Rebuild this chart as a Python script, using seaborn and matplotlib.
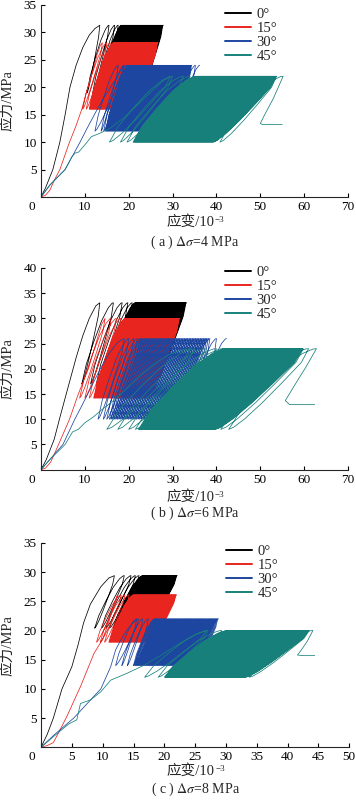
import matplotlib

matplotlib.use("Agg")
import matplotlib.pyplot as plt
import matplotlib.transforms as mtransforms
import numpy as np
import pandas as pd
import seaborn as sns

ANGLES = ["0°", "15°", "30°", "45°"]
COLORS = ["#000000", "#e8251f", "#1d46a0", "#17807a"]

# shape of one hysteresis loop, normalised (strain share of loop width, stress share of range)
UP_U = [0.0, 0.03, 0.14, 0.38, 0.63, 0.84, 0.96, 1.0]
UP_V = [0.0, 0.05, 0.24, 0.52, 0.78, 0.94, 0.995, 1.0]
DOWN_U = [0.985, 0.91, 0.66, 0.42, 0.2, 0.06, 0.0]
DOWN_V = [0.97, 0.83, 0.57, 0.33, 0.13, 0.025, 0.0]

# ---- (a) delta sigma = 4 MPa ----
A_INIT_E = [
    [0, 1.0, 2.7, 4.3, 5.5, 6.6, 8.0, 9.5, 11.0, 12.3, 13.4],
    [0, 1.0, 2.0, 3.0, 4.3, 6.5, 8.0, 9.3, 10.5, 11.8, 12.8, 13.5, 14.0],
    [0, 2.0, 5.5, 8.9, 10.5, 12.7, 14.5, 16.0, 17.2, 18.2, 18.8],
    [0, 2.0, 5.5, 7.0, 7.8, 8.6, 10.0, 11.5, 13.4, 15.7, 19.0, 22.0, 25.5, 28.0, 29.5],
]
A_INIT_S = [
    [0, 1.6, 5, 10, 15, 20, 24, 27.2, 29.5, 30.7, 31.3],
    [0, 0.3, 1.2, 3.0, 5, 10, 13, 16, 19.5, 23, 26, 27.6, 28.1],
    [0, 2.2, 5, 10, 12.5, 15.8, 18.3, 20.2, 21.6, 23.2, 24.0],
    [0, 2.1, 5, 7.3, 8.0, 8.2, 9.5, 11.0, 11.6, 12.5, 14.5, 16.8, 19.5, 21.3, 22.0],
]
A_HI = [31.3, 28.1, 24.0, 22.0]
A_LO = [19.0, 16.0, 12.0, 10.0]
A_D = [5.0, 5.5, 5.3, 14.4]
A_EARLY = [[15.5, 16.8, 17.6], [15.0, 15.8], [17.6, 19.0, 19.6], [30.0, 32.5, 34.0]]
A_DENSE = [(18.3, 27.9, 70), (16.5, 26.7, 90), (20.0, 34.3, 110), (35.4, 53.7, 160)]
A_LATE = [[], [], [35.2, 36.2], [55.2]]
A_TAIL_E = [[], [], [], [53.0, 51.0, 50.0, 50.5, 55.0]]
A_TAIL_S = [[], [], [], [18.0, 15.0, 13.4, 13.2, 13.2]]

# ---- (b) delta sigma = 6 MPa ----
B_INIT_E = [
    [0, 1.2, 3.0, 4.5, 5.8, 7.0, 8.1, 9.5, 11.0, 12.5, 13.4],
    [0, 1.0, 2.2, 3.5, 5.0, 6.5, 8.5, 10.8, 12.5, 13.8, 14.6],
    [0, 2.0, 5.0, 7.7, 9.5, 11.5, 13.5, 15.5, 17.5, 19.0],
    [0, 2.0, 5.5, 7.2, 8.5, 10.0, 12.0, 14.0, 17.0, 20.0, 23.0, 26.0, 29.0, 32.0, 34.0],
]
B_INIT_S = [
    [0, 2, 6, 11, 15.2, 19, 22.5, 26.5, 30, 32.5, 33.1],
    [0, 0.3, 1.5, 4, 7, 10, 15, 20, 25, 28.8, 30],
    [0, 2, 5, 10, 13, 16.5, 20, 23, 25.3, 26],
    [0, 2, 5, 7.5, 8, 9.3, 10.5, 12, 14, 16.5, 19, 21, 22.8, 23.7, 24],
]
B_HI = [33.1, 30.0, 26.0, 24.0]
B_LO = [17.0, 14.2, 10.0, 8.0]
B_D = [7.2, 7.2, 7.0, 20.0]
B_EARLY = [[16.5, 18.5, 19.8, 20.8], [16.0, 17.2, 18.2], [20.0, 21.2, 22.0], [35.0, 37.5, 40.0, 41.5]]
B_DENSE = [(21.5, 33.2, 80), (19.2, 31.7, 90), (22.6, 38.5, 45), (42.2, 59.8, 95)]
B_LATE = [[], [], [40.0, 42.3], [61.0, 62.8]]
B_TAIL_E = [[], [], [], [60.5, 58.0, 55.7, 56.7, 62.4]]
B_TAIL_S = [[], [], [], [20.5, 17.0, 13.7, 12.9, 12.9]]

# ---- (c) delta sigma = 8 MPa ----
C_INIT_E = [
    [0, 1.0, 2.0, 3.4, 5.0, 6.0, 6.9, 8.0, 9.7, 11.0, 11.9],
    [0, 1.0, 2.0, 3.0, 4.2, 6.4, 8.6, 10.0, 11.0, 11.8, 12.4],
    [0, 2.0, 5.3, 7.5, 9.7, 11.3, 12.1, 13.0, 14.0, 15.0, 15.8],
    [0, 2.0, 4.5, 5.8, 6.4, 8.0, 9.7, 11.3, 14.0, 16.8, 19.5, 22.5, 25.0, 26.8],
]
C_INIT_S = [
    [0, 2.2, 5, 10, 13.8, 17.5, 21.3, 24.5, 27.5, 29.0, 29.4],
    [0, 0.3, 0.8, 2.8, 5.3, 10.4, 16.1, 18.5, 21.5, 24.5, 26.1],
    [0, 2, 5, 7.5, 10, 13.8, 16.7, 18.5, 20.2, 21.4, 22],
    [0, 1.8, 4, 4.7, 7.5, 8.1, 9.5, 11.5, 12.7, 14.1, 15.8, 17.8, 19.3, 20],
]
C_HI = [29.4, 26.1, 22.0, 20.0]
C_LO = [20.4, 18.0, 14.0, 12.0]
C_D = [4.8, 4.0, 3.4, 10.3]
C_EARLY = [[13.5, 14.6, 15.3, 15.9], [13.0, 13.6, 14.3], [15.5, 16.5, 17.4], [27.1, 29.3]]
C_DENSE = [(16.5, 22.1, 60), (15.0, 22.0, 70), (18.4, 28.8, 70), (30.3, 43.5, 120)]
C_LATE = [[], [], [], [44.1]]
C_TAIL_E = [[], [], [], [43.2, 42.3, 41.6, 42.5, 44.4]]
C_TAIL_S = [[], [], [], [18.2, 16.8, 15.8, 15.7, 15.7]]

TEXT_FONT = ["Liberation Serif", "Noto Sans CJK SC"]


def cyclic_curve(init_e, init_s, early, dense, late, lo, hi, d, tail_e, tail_s):
    peaks = [init_e[-1]] + early + list(np.linspace(dense[0], dense[1], dense[2])) + late
    xs, ys = list(init_e), list(init_s)
    for p0, p1 in zip(peaks[:-1], peaks[1:]):
        b = p1 - d
        for u, v in zip(DOWN_U, DOWN_V):
            xs.append(b + u * (p0 - b))
            ys.append(lo + v * (hi - lo))
        for u, v in zip(UP_U[1:], UP_V[1:]):
            xs.append(b + u * (p1 - b))
            ys.append(lo + v * (hi - lo))
    xs += tail_e
    ys += tail_s
    return xs, ys


def build_frame(init_e, init_s, early, dense, late, lo, hi, d, tail_e, tail_s):
    parts = []
    for i, ang in enumerate(ANGLES):
        xs, ys = cyclic_curve(init_e[i], init_s[i], early[i], dense[i], late[i],
                              lo[i], hi[i], d[i], tail_e[i], tail_s[i])
        parts.append(pd.DataFrame({"strain": xs, "stress": ys, "angle": ang}))
    return pd.concat(parts, ignore_index=True)


sns.set_theme(style="ticks")
plt.rcParams["font.family"] = TEXT_FONT
plt.rcParams["mathtext.fontset"] = "stix"
plt.rcParams["axes.linewidth"] = 0.8

fig = plt.figure(figsize=(3.56, 8.0), dpi=100)

panels = [
    dict(rect=[0.1152, 0.7538, 0.8624, 0.24], xlim=70, xstep=10, ylim=35,
         df=build_frame(A_INIT_E, A_INIT_S, A_EARLY, A_DENSE, A_LATE, A_LO, A_HI, A_D, A_TAIL_E, A_TAIL_S),
         cap="( a ) $\\Delta\\sigma$=4 MPa", xl_y=0.7225, cap_y=0.6975, leg_y=0.985),
    dict(rect=[0.1152, 0.4129, 0.8624, 0.2521], xlim=70, xstep=10, ylim=40,
         df=build_frame(B_INIT_E, B_INIT_S, B_EARLY, B_DENSE, B_LATE, B_LO, B_HI, B_D, B_TAIL_E, B_TAIL_S),
         cap="( b ) $\\Delta\\sigma$=6 MPa", xl_y=0.379, cap_y=0.358, leg_y=1.01),
    dict(rect=[0.1152, 0.0659, 0.866, 0.2554], xlim=50, xstep=5, ylim=35,
         df=build_frame(C_INIT_E, C_INIT_S, C_EARLY, C_DENSE, C_LATE, C_LO, C_HI, C_D, C_TAIL_E, C_TAIL_S),
         cap="( c ) $\\Delta\\sigma$=8 MPa", xl_y=0.036, cap_y=0.0135, leg_y=0.99),
]

for p in panels:
    ax = fig.add_axes(p["rect"])
    sns.lineplot(data=p["df"], x="strain", y="stress", hue="angle", hue_order=ANGLES,
                 palette=COLORS, sort=False, estimator=None, lw=0.55, ax=ax)
    ax.set_xlim(0, p["xlim"])
    ax.set_ylim(0, p["ylim"])
    ax.set_xticks(np.arange(0, p["xlim"] + 1, p["xstep"]))
    ax.set_yticks(np.arange(5, p["ylim"] + 1, 5))
    ax.tick_params(direction="in", length=3, width=0.8, labelsize=9.5, pad=3, colors="black")
    sns.despine(ax=ax)
    ax.set_xlabel("")
    ax.set_ylabel("")
    # the "0" label sits left of the origin
    lab0 = ax.xaxis.get_major_ticks()[0].label1
    lab0.set_transform(lab0.get_transform() + mtransforms.ScaledTranslation(-0.09, 0, fig.dpi_scale_trans))

    handles, labels = ax.get_legend_handles_labels()
    for h in handles:
        h.set_linewidth(1.4)
    ax.legend(handles, labels, loc="upper left", bbox_to_anchor=(0.6, p["leg_y"]),
              frameon=False, fontsize=10.5, borderpad=0, borderaxespad=0,
              handlelength=1.8, handletextpad=0.35, labelspacing=0.05)

    x0, y0, w, h = p["rect"]
    xl = fig.text(x0 + w / 2 - 0.012, p["xl_y"], "应变/10", ha="center", va="center",
                  fontsize=10.5, family=TEXT_FONT)
    ax.annotate("−3", xy=(1, 1), xycoords=xl, xytext=(0.5, -3.5), textcoords="offset points",
                ha="left", va="center", fontsize=6.5, family=TEXT_FONT, annotation_clip=False)
    fig.text(x0 + w / 2, p["cap_y"], p["cap"], ha="center", va="center", fontsize=10)
    fig.text(0.022, y0 + h / 2, "应力/MPa", rotation=90, ha="center", va="center",
             fontsize=10.5, family=TEXT_FONT)

fig.savefig("out.png", dpi=100)
plt.close(fig)
